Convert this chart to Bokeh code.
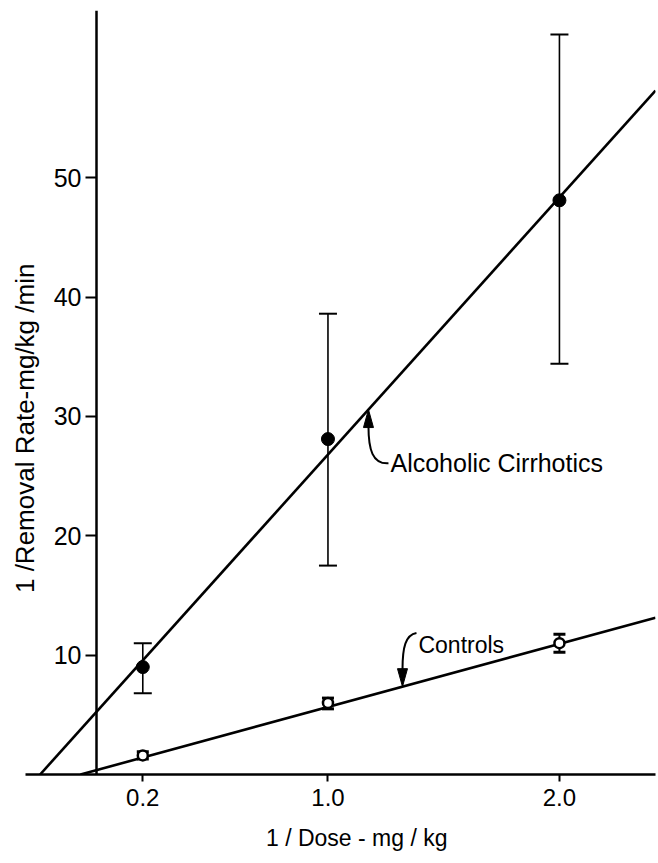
import math
from bokeh.plotting import figure
from bokeh.models import (LinearAxis, FixedTicker, Whisker, ColumnDataSource,
                          TeeHead, Label, Range1d)
from bokeh.embed import file_html
from bokeh.resources import INLINE

# ---------------- data ----------------
doses = [0.2, 1.0, 2.0]
x_tick_labels = ["0.2", "1.0", "2.0"]
y_ticks = [10, 20, 30, 40, 50]

cirr_mean = [9.0, 28.1, 48.1]
cirr_upper = [11.0, 38.6, 62.0]
cirr_lower = [6.8, 17.5, 34.4]

ctrl_mean = [1.6, 6.0, 11.0]
ctrl_upper = [1.9, 6.4, 11.75]
ctrl_lower = [1.3, 5.5, 10.25]

cirr_fit_intercept = 5.25
cirr_fit_slope = 21.55
ctrl_fit_intercept = 0.365
ctrl_fit_slope = 5.29

x_start, x_end = -0.4147, 2.415     # plotted range
x_axis_start = -0.307               # where the drawn x-axis line begins
y_start, y_end = 0.0, 64.0

x_title = "1 / Dose - mg / kg"
y_title = "1 /Removal Rate-mg/kg /min"
y_title_pos = (-0.307, 29.0)

# annotation anchors (data units)
ctrl_label = "Controls"
ctrl_label_pos = (1.391, 10.84)
ctrl_arrow_x = 1.322
cirr_label = "Alcoholic Cirrhotics"
cirr_label_pos = (1.270, 26.07)
cirr_arrow_x = 1.175

# ---------------- figure ----------------
W, H = 658, 863
left_b, right_b, top_b, bottom_b = 0, 3, 10, 89
p = figure(width=W, height=H, x_range=Range1d(x_start, x_end),
           y_range=Range1d(y_start, y_end), output_backend="svg",
           toolbar_location=None, y_axis_location=None,
           min_border_left=left_b, min_border_right=right_b,
           min_border_top=top_b, min_border_bottom=bottom_b)
p.outline_line_color = None
p.grid.visible = False
p.background_fill_color = "white"
p.border_fill_color = "white"

FONT = "Liberation Sans"

xa = p.xaxis[0]
xa.bounds = (x_axis_start, x_end)
xa.ticker = FixedTicker(ticks=doses)
xa.major_label_overrides = {d: t for d, t in zip(doses, x_tick_labels)}
xa.minor_tick_line_color = None
xa.major_tick_in = 0
xa.major_tick_out = 7
xa.major_tick_line_width = 2
xa.axis_line_width = 2.5
xa.major_label_text_font = FONT
xa.major_label_text_font_size = "24px"
xa.major_label_text_color = "black"
xa.major_label_standoff = 7
# leading no-break spaces shift the centred title to the right, as in the original
xa.axis_label = "\u00a0" * 9 + x_title
xa.axis_label_text_font = FONT
xa.axis_label_text_font_style = "normal"
xa.axis_label_text_font_size = "23px"
xa.axis_label_text_color = "black"
xa.axis_label_standoff = 16

ya = LinearAxis(fixed_location=0, ticker=FixedTicker(ticks=y_ticks))
ya.minor_tick_line_color = None
ya.major_tick_in = 0
ya.major_tick_out = 11
ya.major_tick_line_width = 2
ya.axis_line_width = 2.5
ya.major_label_text_font = FONT
ya.major_label_text_font_size = "25px"
ya.major_label_text_color = "black"
ya.major_label_standoff = 4
p.add_layout(ya, "left")

# y title, rotated, placed left of the tick labels
p.add_layout(Label(x=y_title_pos[0], y=y_title_pos[1], text=y_title,
                   angle=math.pi / 2, text_font=FONT, text_font_size="26px",
                   text_align="center", text_baseline="middle",
                   text_color="black"))

# ---------------- fitted lines ----------------
for b, m in [(cirr_fit_intercept, cirr_fit_slope), (ctrl_fit_intercept, ctrl_fit_slope)]:
    x0 = -b / m
    p.line([x0, x_end], [0, b + m * x_end], line_color="black", line_width=2.6)

# ---------------- error bars & points ----------------
cirr_src = ColumnDataSource(dict(x=doses, y=cirr_mean, lo=cirr_lower, hi=cirr_upper))
ctrl_src = ColumnDataSource(dict(x=doses, y=ctrl_mean, lo=ctrl_lower, hi=ctrl_upper))

p.add_layout(Whisker(source=cirr_src, base="x", lower="lo", upper="hi",
                     line_width=1.6, line_color="black",
                     upper_head=TeeHead(size=18, line_width=2),
                     lower_head=TeeHead(size=18, line_width=2)))
p.add_layout(Whisker(source=ctrl_src, base="x", lower="lo", upper="hi",
                     line_width=2, line_color="black",
                     upper_head=TeeHead(size=12, line_width=3),
                     lower_head=TeeHead(size=12, line_width=3)))

p.scatter("x", "y", source=cirr_src, size=13, marker="circle",
          fill_color="black", line_color="black")
p.scatter("x", "y", source=ctrl_src, size=10, marker="circle",
          fill_color="white", line_color="black", line_width=2.5)

# ---------------- annotations ----------------
sx = (W - left_b - right_b) / (x_end - x_start)   # px per x unit
sy = (H - top_b - bottom_b) / (y_end - y_start)   # px per y unit

def px(dx):
    return dx / sx

def py(dy):
    return dy / sy

for text, (tx, ty), fs in [(ctrl_label, ctrl_label_pos, "23px"),
                           (cirr_label, cirr_label_pos, "25px")]:
    p.add_layout(Label(x=tx, y=ty, text=text, text_font=FONT,
                       text_font_size=fs, text_baseline="middle",
                       text_align="left", text_color="black"))

# Controls arrow: curve from label down to the line, head pointing down
ctip_y = ctrl_fit_intercept + ctrl_fit_slope * ctrl_arrow_x
lx, ly = ctrl_label_pos
p.bezier(x0=[lx - px(2)], y0=[ly + py(12)],
         x1=[ctrl_arrow_x], y1=[ctip_y + py(17)],
         cx0=[ctrl_arrow_x + px(3)], cy0=[ly + py(10)],
         cx1=[ctrl_arrow_x], cy1=[ly - py(2)],
         line_color="black", line_width=2)
p.patch([ctrl_arrow_x - px(5), ctrl_arrow_x, ctrl_arrow_x + px(5)],
        [ctip_y + py(18), ctip_y, ctip_y + py(18)],
        fill_color="black", line_color="black", line_width=1)

# Cirrhotics arrow: curve from label up to the line, head pointing up
atip_y = cirr_fit_intercept + cirr_fit_slope * cirr_arrow_x
lx, ly = cirr_label_pos
p.bezier(x0=[lx - px(2)], y0=[ly], x1=[cirr_arrow_x], y1=[atip_y - py(17)],
         cx0=[cirr_arrow_x + px(4)], cy0=[ly - py(1)],
         cx1=[cirr_arrow_x], cy1=[ly + py(14)],
         line_color="black", line_width=2)
p.patch([cirr_arrow_x - px(5), cirr_arrow_x, cirr_arrow_x + px(5)],
        [atip_y - py(18), atip_y, atip_y - py(18)],
        fill_color="black", line_color="black", line_width=1)

open("out.html", "w").write(file_html(p, INLINE))
